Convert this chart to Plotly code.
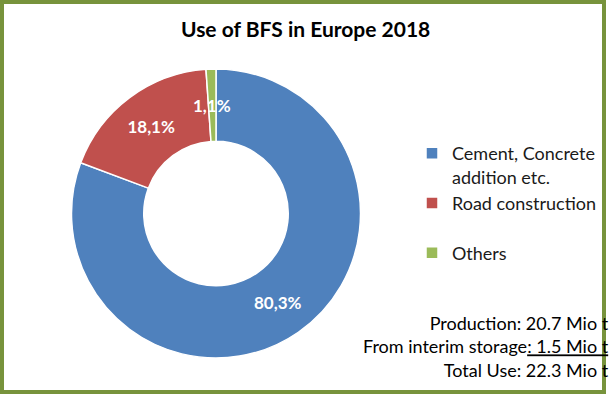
import math
import plotly.graph_objects as go

categories = ["Cement, Concrete<br>addition etc.", "Road construction<br> ", "Others<br> "]
shares = [80.3, 18.1, 1.1]
colors = ["#4F81BD", "#C0504D", "#9BBB59"]
notes = ["Production: 20.7 Mio t",
         "From interim storage<u>: 1.5 Mio t</u>",
         "Total Use: 22.3 Mio t"]
title_text = "Use of BFS in Europe 2018"

W, H = 609, 397
FONT = "Lato"
HOLE = 0.5

def px_x(x):
    return x / W

def px_y(y):
    return 1 - y / H

dom_x = [px_x(71), px_x(361)]
dom_y = [px_y(358), px_y(69)]

# label templates: tiny slices get their label as an annotation placed mid-ring
small = [v / sum(shares) < 0.03 for v in shares]
templates = ["" if s else "<b>%{value:.1f}%</b>" for s in small]

fig = go.Figure(go.Pie(
    labels=categories,
    values=shares,
    hole=HOLE,
    sort=False,
    direction="clockwise",
    rotation=0,
    marker=dict(colors=colors, line=dict(color="white", width=1.5)),
    texttemplate=templates,
    textposition="inside",
    insidetextorientation="horizontal",
    textfont=dict(family=FONT, size=17, color="white"),
    domain=dict(x=dom_x, y=dom_y),
    showlegend=True,
))

annotations = [dict(text=f"<b>{title_text}</b>", x=px_x(305), y=px_y(29), xref="paper", yref="paper",
                    xanchor="center", yanchor="middle", showarrow=False,
                    font=dict(family=FONT, size=21, color="#000000"))]

# derive tiny-slice label position from the data (clockwise from 12 o'clock)
cx_px = (dom_x[0] + dom_x[1]) / 2 * W
cy_px = (1 - (dom_y[0] + dom_y[1]) / 2) * H
R_px = min((dom_x[1] - dom_x[0]) * W, (dom_y[1] - dom_y[0]) * H) / 2
r_mid = R_px * (1 + HOLE) / 2
total = sum(shares)
cum = 0
for v, s in zip(shares, small):
    mid = (cum + v / 2) / total * 2 * math.pi
    cum += v
    if s:
        lx = cx_px + r_mid * math.sin(mid)
        ly = cy_px - r_mid * math.cos(mid)
        annotations.append(dict(text="<b>" + f"{v:.1f}".replace(".", ",") + "%</b>",
                                x=px_x(lx), y=px_y(ly), xref="paper", yref="paper",
                                xanchor="center", yanchor="middle", showarrow=False,
                                font=dict(family=FONT, size=17, color="white")))

annotations.append(dict(text="<br>".join(notes), x=px_x(595), y=px_y(383),
                        xref="paper", yref="paper", xshift=16,
                        xanchor="right", yanchor="bottom", align="right", showarrow=False,
                        font=dict(family=FONT, size=18, color="#000000")))

fig.update_layout(
    width=W, height=H,
    margin=dict(l=0, r=0, t=0, b=0),
    paper_bgcolor="white",
    plot_bgcolor="white",
    separators=", ",
    legend=dict(x=px_x(412), y=px_y(135), xanchor="left", yanchor="top",
                valign="top", font=dict(family=FONT, size=18, color="#1a1a1a"),
                bgcolor="rgba(0,0,0,0)", itemwidth=30),
    annotations=annotations,
    shapes=[dict(type="rect", xref="paper", yref="paper",
                 x0=px_x(2), x1=px_x(604), y0=px_y(392), y1=px_y(2),
                 line=dict(color="#77933C", width=4))],
)

post = """
document.body.style.margin='0';document.body.style.overflow='hidden';
var gd=document.getElementById('{plot_id}');
Promise.all([document.fonts.load('18px Lato'),document.fonts.load('bold 18px Lato')])
  .then(function(){return document.fonts.ready;})
  .then(function(){Plotly.newPlot(gd, gd.data, gd.layout, {displayModeBar:false});})
  .catch(function(){});
"""

fig.write_html("out.html", config={"displayModeBar": False}, post_script=post)
